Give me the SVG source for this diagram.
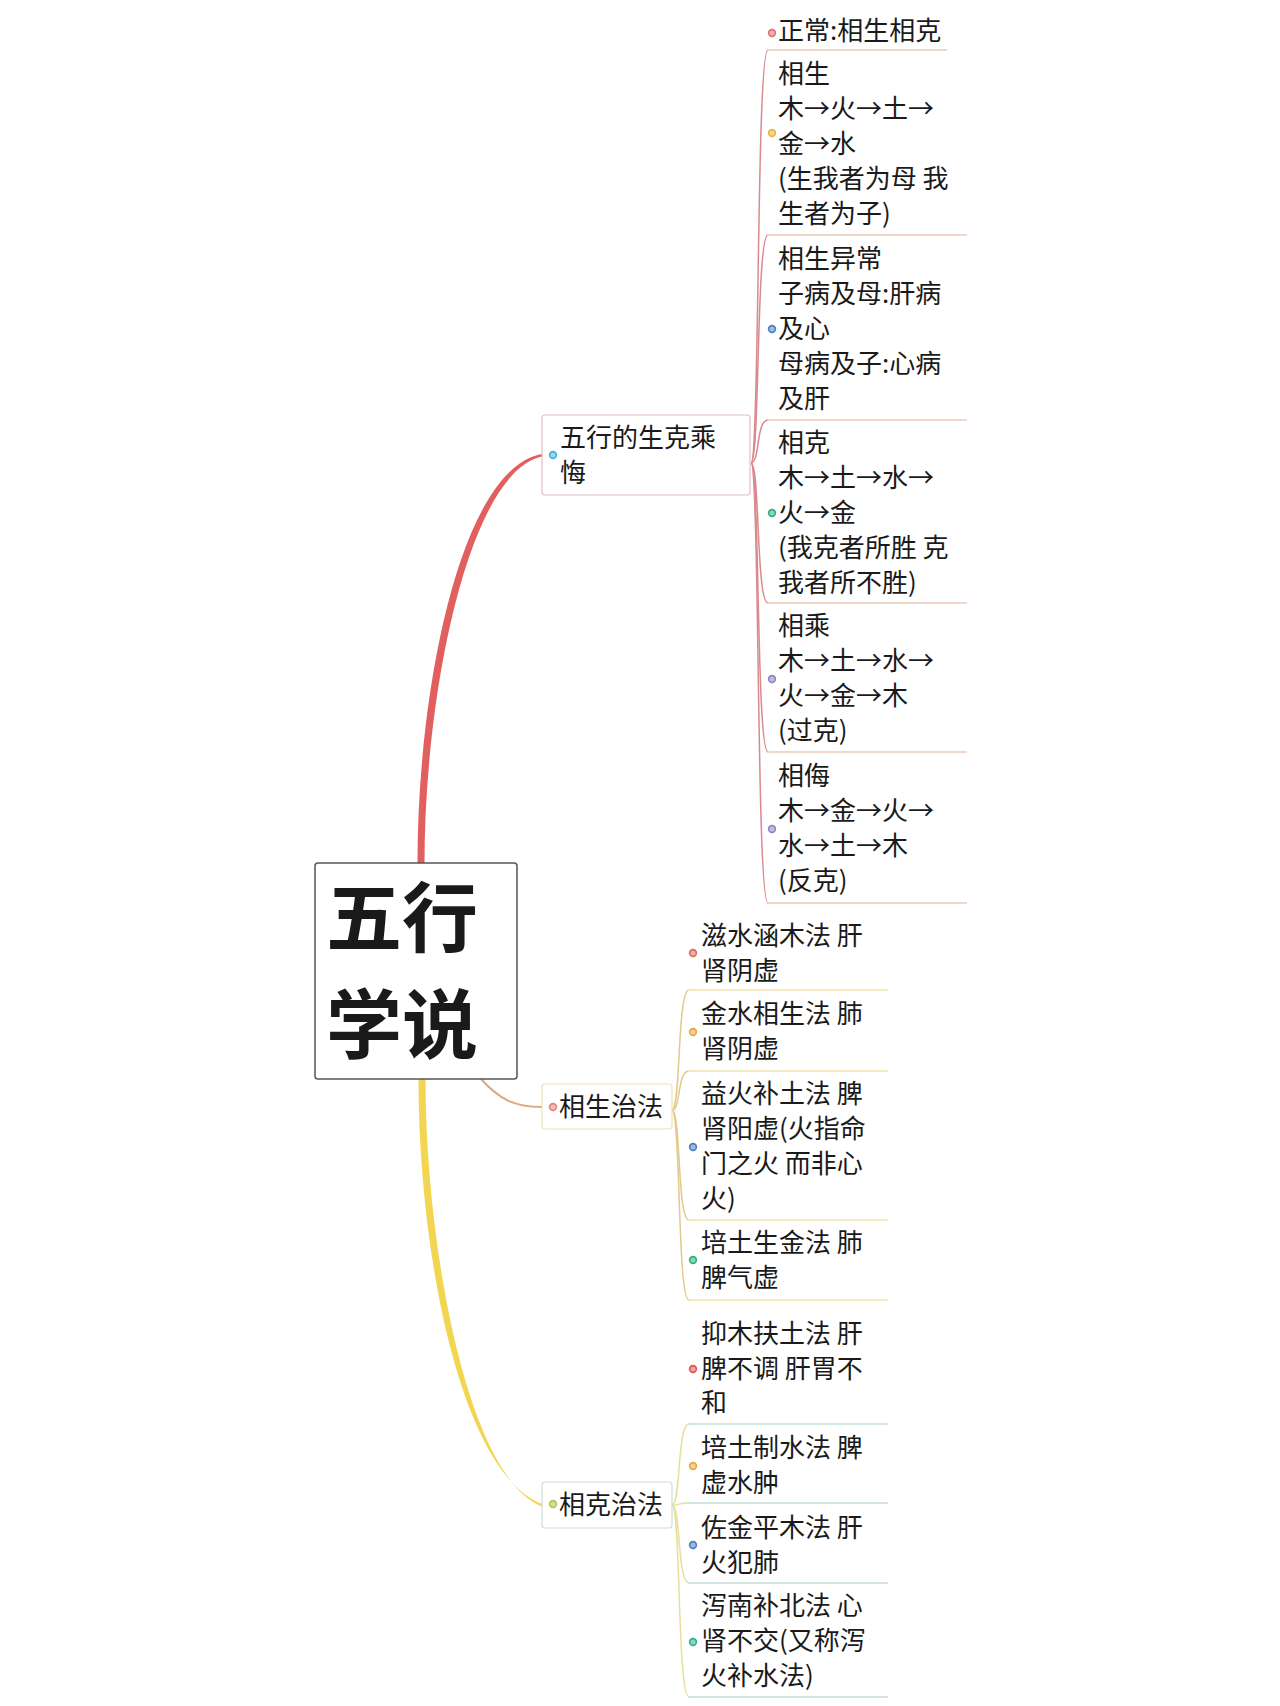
<svg xmlns="http://www.w3.org/2000/svg" width="1280" height="1706" viewBox="0 0 1280 1706">
<style>
text{font-family:"Noto Sans CJK SC","Noto Sans",sans-serif;fill:#1a1a1a}
.t{font-size:26px}
.root{font-size:76px;font-weight:700}
.c1{fill:none;stroke:#d98a8e;stroke-width:1.5}
.c2{fill:none;stroke:#e2c98c;stroke-width:1.5}
.c3{fill:none;stroke:#e6df9c;stroke-width:1.5}
.u1{fill:none;stroke:#ebcab6;stroke-width:1.5}
.u2{fill:none;stroke:#efe2ae;stroke-width:1.5}
.u3{fill:none;stroke:#c4ded7;stroke-width:1.5}
.dot{stroke-width:1.6;fill-opacity:0.55}
</style>
<rect width="1280" height="1706" fill="#ffffff"/>
<g id="connectors">
  <path d="M417.5 863 C417.5 688 461 468 542 454 L542 456.5 C469 472 424.5 692 424.5 863 Z" fill="#e25f5f"/>
  <path d="M418.5 1079 C418.5 1252 460 1472 542 1504 L542 1506.5 C468 1478 425.5 1248 425.5 1079 Z" fill="#f2d550"/>
  <path d="M481 1079 C500 1100 515 1107 542 1107" fill="none" stroke="#e0a87a" stroke-width="2"/>
  <g id="b1-links">
    <path class="c1" d="M751 463 C760 463 756 50 768 50"/>
    <path class="c1" d="M751 463 C760 463 756 235 768 235"/>
    <path class="c1" d="M751 463 C760 463 756 420 768 420"/>
    <path class="c1" d="M751 463 C760 463 756 603 768 603"/>
    <path class="c1" d="M751 463 C760 463 756 752 768 752"/>
    <path class="c1" d="M751 463 C760 463 756 903 768 903"/>
    <path class="u1" d="M767 50 L947 50 M767 235 L967 235 M767 420 L967 420 M767 603 L967 603 M767 752 L967 752 M767 903 L967 903"/>
  </g>
  <g id="b2-links">
    <path class="c2" d="M672 1110 C681 1110 677 990 689 990"/>
    <path class="c2" d="M672 1110 C681 1110 677 1071 689 1071"/>
    <path class="c2" d="M672 1110 C681 1110 677 1220 689 1220"/>
    <path class="c2" d="M672 1110 C681 1110 677 1300 689 1300"/>
    <path class="u2" d="M688 990 L888 990 M688 1071 L888 1071 M688 1220 L888 1220 M688 1300 L888 1300"/>
  </g>
  <g id="b3-links">
    <path class="c3" d="M672 1505 C681 1505 677 1424 689 1424"/>
    <path class="c3" d="M672 1505 C681 1505 677 1503 689 1503"/>
    <path class="c3" d="M672 1505 C681 1505 677 1583 689 1583"/>
    <path class="c3" d="M672 1505 C681 1505 677 1697 689 1697"/>
    <path class="u3" d="M688 1424 L888 1424 M688 1503 L888 1503 M688 1583 L888 1583 M688 1697 L888 1697"/>
  </g>
</g>
<g id="root">
  <rect x="315" y="863" width="202" height="216" rx="3" fill="#fff" stroke="#555" stroke-width="1.5"/>
  <text class="root" x="326" y="946">五行</text>
  <text class="root" x="326" y="1053">学说</text>
</g>
<g id="n-shengke">
  <rect x="542" y="415" width="208" height="80" rx="3" fill="#fff" stroke="#e2bfc0" stroke-width="1.2"/>
  <circle class="dot" cx="553" cy="455" r="3.4" stroke="#3fb6d6" fill="#3fb6d6"/>
  <text class="t" x="560" y="447">五行的生克乘</text>
  <text class="t" x="560" y="482">悔</text>
</g>
<g id="n-zhengchang">
  <circle class="dot" cx="772" cy="33" r="3.4" stroke="#df6f74" fill="#df6f74"/>
  <text class="t" x="778" y="40">正常:相生相克</text>
</g>
<g id="n-xiangsheng">
  <circle class="dot" cx="772" cy="133" r="3.4" stroke="#e8b43e" fill="#e8b43e"/>
  <text class="t" x="778" y="83">相生</text>
  <text class="t" x="778" y="118">木→火→土→</text>
  <text class="t" x="778" y="153">金→水</text>
  <text class="t" x="778" y="188">(生我者为母 我</text>
  <text class="t" x="778" y="223">生者为子)</text>
</g>
<g id="n-yichang">
  <circle class="dot" cx="772" cy="329" r="3.4" stroke="#4a7fc2" fill="#4a7fc2"/>
  <text class="t" x="778" y="268">相生异常</text>
  <text class="t" x="778" y="303">子病及母:肝病</text>
  <text class="t" x="778" y="338">及心</text>
  <text class="t" x="778" y="373">母病及子:心病</text>
  <text class="t" x="778" y="408">及肝</text>
</g>
<g id="n-xiangke">
  <circle class="dot" cx="772" cy="513" r="3.4" stroke="#2fae80" fill="#2fae80"/>
  <text class="t" x="778" y="452">相克</text>
  <text class="t" x="778" y="487">木→土→水→</text>
  <text class="t" x="778" y="522">火→金</text>
  <text class="t" x="778" y="557">(我克者所胜 克</text>
  <text class="t" x="778" y="592">我者所不胜)</text>
</g>
<g id="n-xiangcheng">
  <circle class="dot" cx="772" cy="679" r="3.4" stroke="#8c85c4" fill="#8c85c4"/>
  <text class="t" x="778" y="635">相乘</text>
  <text class="t" x="778" y="670">木→土→水→</text>
  <text class="t" x="778" y="705">火→金→木</text>
  <text class="t" x="778" y="740">(过克)</text>
</g>
<g id="n-xiangwu">
  <circle class="dot" cx="772" cy="829" r="3.4" stroke="#8c85c4" fill="#8c85c4"/>
  <text class="t" x="778" y="785">相侮</text>
  <text class="t" x="778" y="820">木→金→火→</text>
  <text class="t" x="778" y="855">水→土→木</text>
  <text class="t" x="778" y="890">(反克)</text>
</g>
<g id="n-shengzhi">
  <rect x="542" y="1084" width="130" height="45" rx="3" fill="#fff" stroke="#efe2b0" stroke-width="1.2"/>
  <circle class="dot" cx="553" cy="1107" r="3.4" stroke="#e08676" fill="#e08676"/>
  <text class="t" x="559" y="1116">相生治法</text>
</g>
<g id="n-zishui">
  <circle class="dot" cx="693" cy="953" r="3.4" stroke="#e06a5e" fill="#e06a5e"/>
  <text class="t" x="701" y="945">滋水涵木法 肝</text>
  <text class="t" x="701" y="980">肾阴虚</text>
</g>
<g id="n-jinshui">
  <circle class="dot" cx="693" cy="1032" r="3.4" stroke="#e8a83e" fill="#e8a83e"/>
  <text class="t" x="701" y="1023">金水相生法 肺</text>
  <text class="t" x="701" y="1058">肾阴虚</text>
</g>
<g id="n-yihuo">
  <circle class="dot" cx="693" cy="1147" r="3.4" stroke="#4a7fc2" fill="#4a7fc2"/>
  <text class="t" x="701" y="1103">益火补土法 脾</text>
  <text class="t" x="701" y="1138">肾阳虚(火指命</text>
  <text class="t" x="701" y="1173">门之火 而非心</text>
  <text class="t" x="701" y="1208">火)</text>
</g>
<g id="n-peitu1">
  <circle class="dot" cx="693" cy="1260" r="3.4" stroke="#2fae80" fill="#2fae80"/>
  <text class="t" x="701" y="1252">培土生金法 肺</text>
  <text class="t" x="701" y="1287">脾气虚</text>
</g>
<g id="n-kezhi">
  <rect x="542" y="1482" width="130" height="46" rx="3" fill="#fff" stroke="#c6e0da" stroke-width="1.2"/>
  <circle class="dot" cx="553" cy="1504" r="3.4" stroke="#aac84e" fill="#aac84e"/>
  <text class="t" x="559" y="1514">相克治法</text>
</g>
<g id="n-yimu">
  <circle class="dot" cx="693" cy="1369" r="3.4" stroke="#e05458" fill="#e05458"/>
  <text class="t" x="701" y="1343">抑木扶土法 肝</text>
  <text class="t" x="701" y="1378">脾不调 肝胃不</text>
  <text class="t" x="701" y="1412">和</text>
</g>
<g id="n-peitu2">
  <circle class="dot" cx="693" cy="1466" r="3.4" stroke="#e8a83e" fill="#e8a83e"/>
  <text class="t" x="701" y="1457">培土制水法 脾</text>
  <text class="t" x="701" y="1492">虚水肿</text>
</g>
<g id="n-zuojin">
  <circle class="dot" cx="693" cy="1545" r="3.4" stroke="#4a7fc2" fill="#4a7fc2"/>
  <text class="t" x="701" y="1537">佐金平木法 肝</text>
  <text class="t" x="701" y="1572">火犯肺</text>
</g>
<g id="n-xienan">
  <circle class="dot" cx="693" cy="1642" r="3.4" stroke="#2fae94" fill="#2fae94"/>
  <text class="t" x="701" y="1615">泻南补北法 心</text>
  <text class="t" x="701" y="1650">肾不交(又称泻</text>
  <text class="t" x="701" y="1685">火补水法)</text>
</g>
</svg>
